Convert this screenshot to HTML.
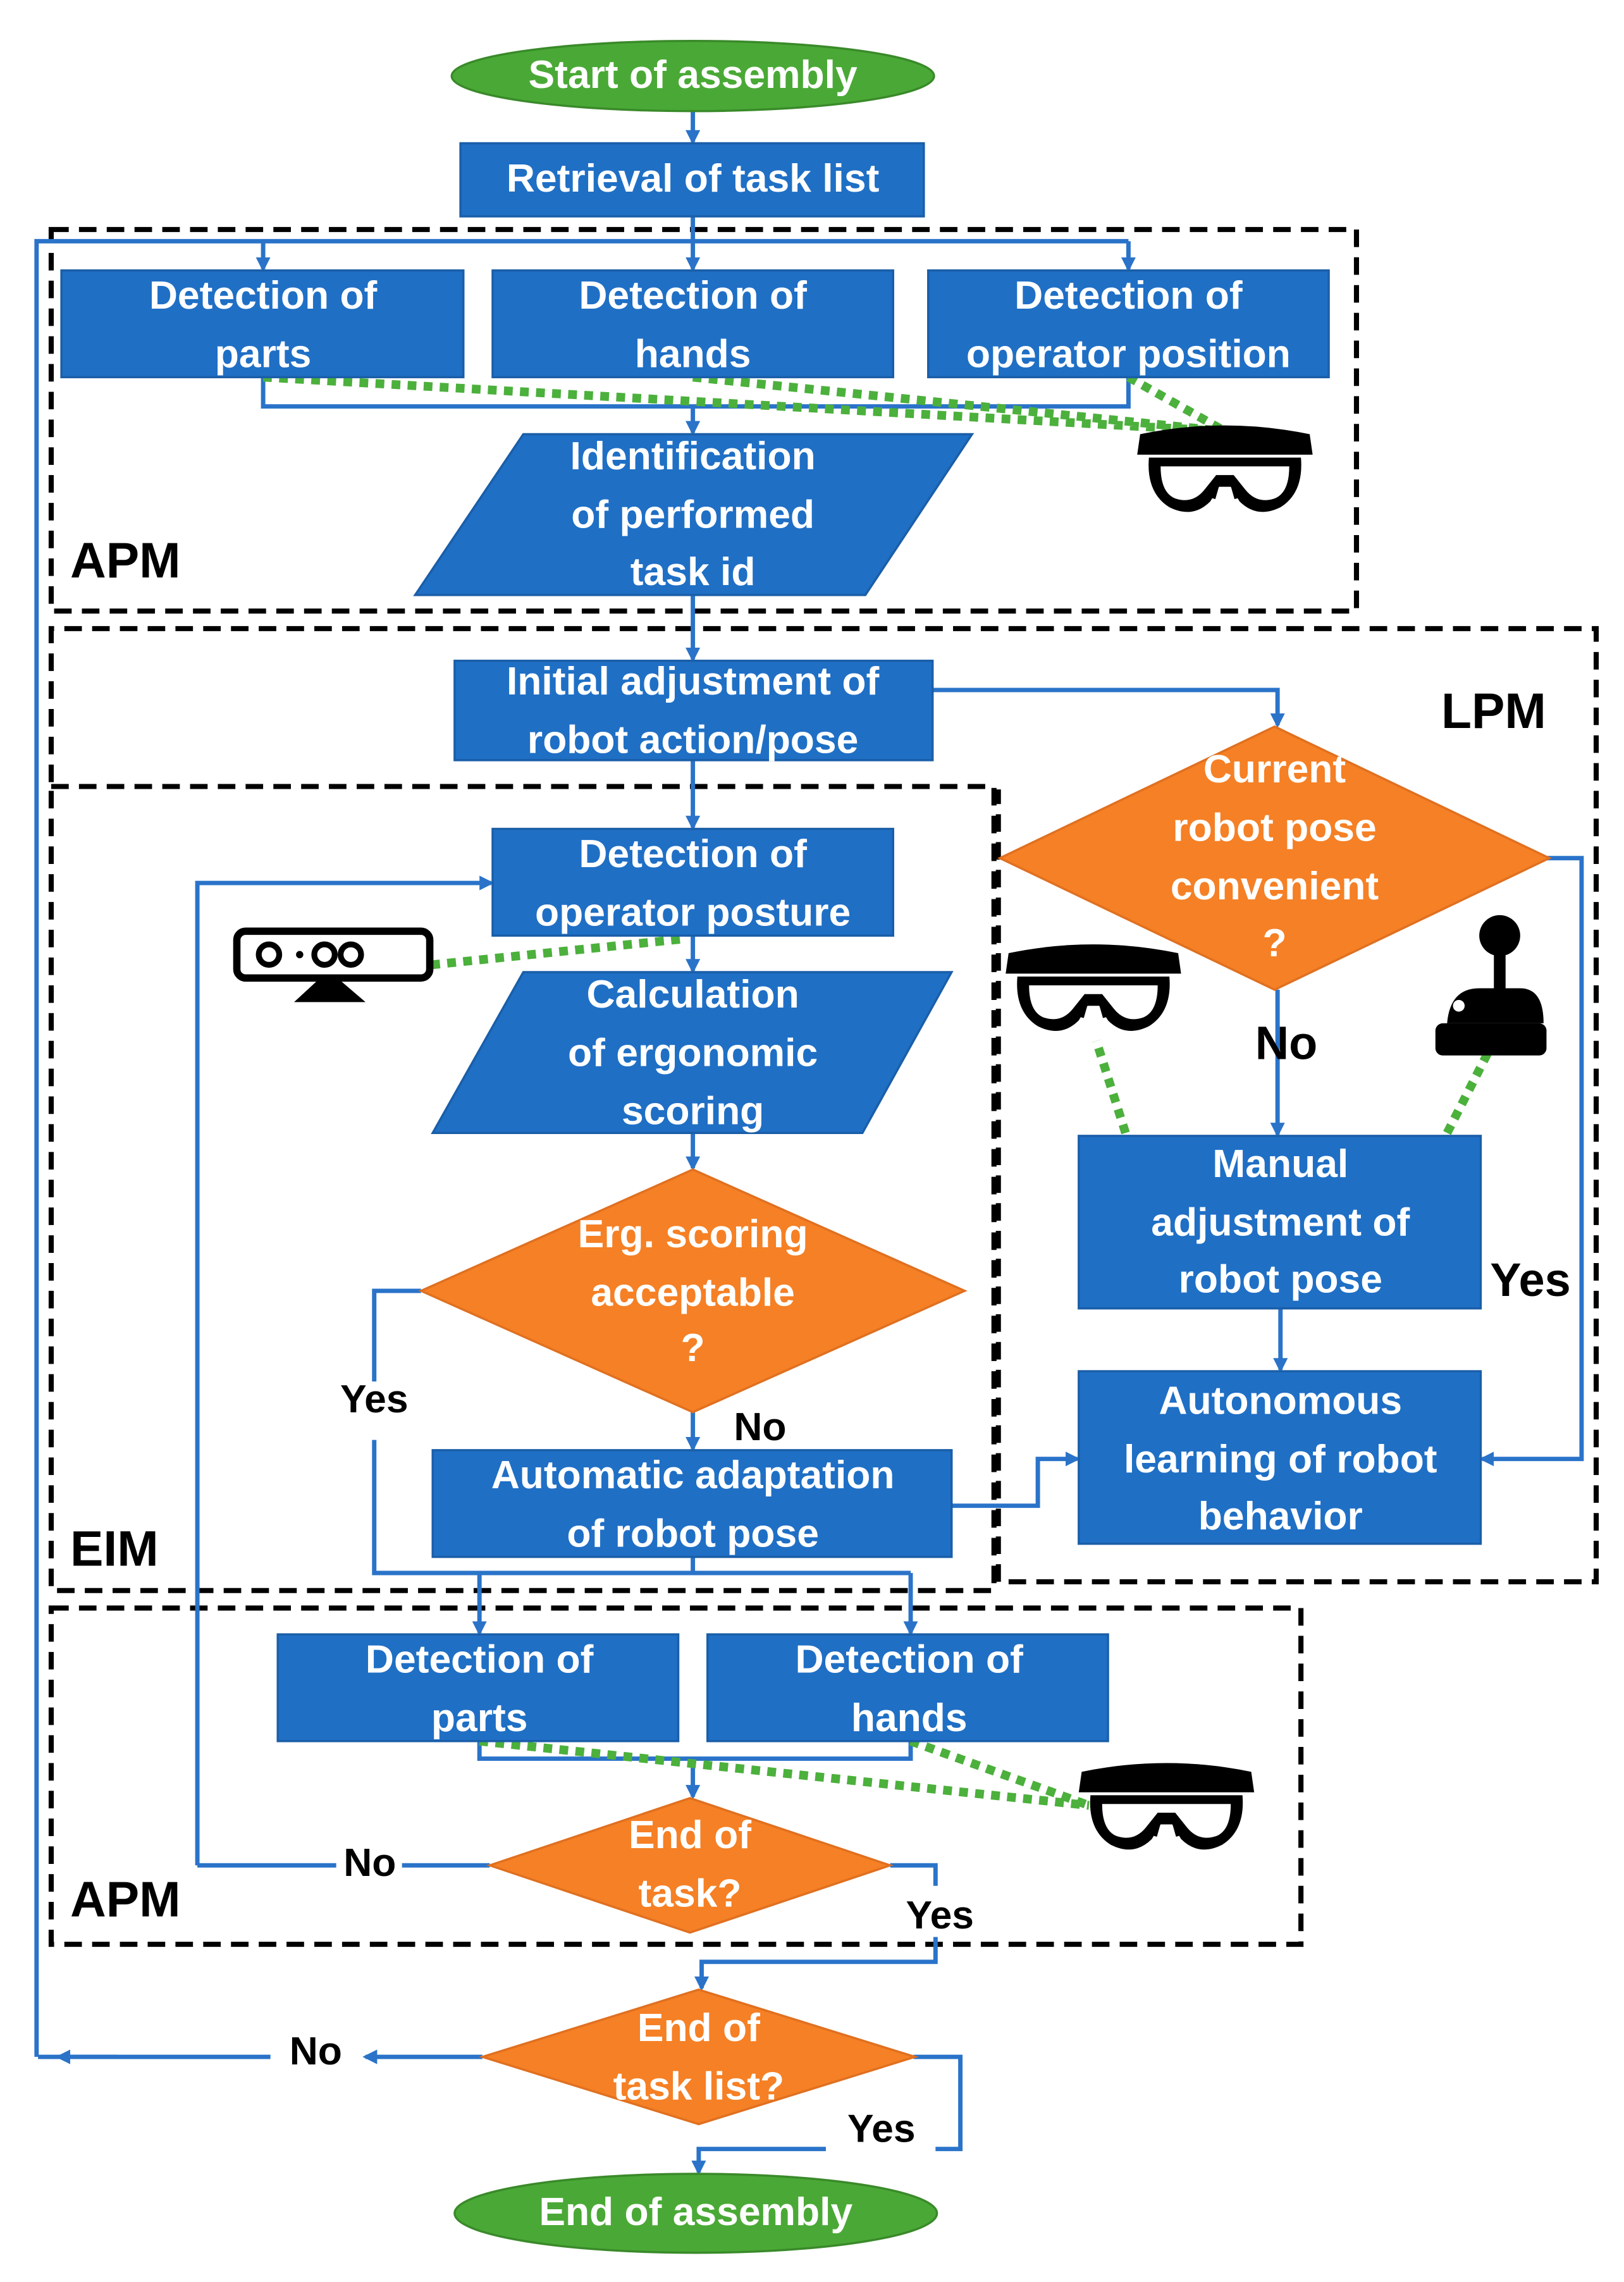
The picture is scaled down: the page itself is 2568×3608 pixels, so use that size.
<!DOCTYPE html>
<html><head><meta charset="utf-8"><style>
html,body{margin:0;padding:0;background:#fff}
svg{display:block}
text{font-family:"Liberation Sans",sans-serif;font-weight:bold}
.bt{fill:#fff;font-size:27px;text-anchor:middle;dominant-baseline:middle}
.lb{fill:#000;font-size:27px;text-anchor:middle;dominant-baseline:middle}
.big{fill:#000;font-size:34px;dominant-baseline:middle}
.box{fill:#1f6fc5;stroke:#1a5ea8;stroke-width:1.5}
.dia{fill:#f58025;stroke:#e07020;stroke-width:1.5}
.ln{stroke:#2a73c9;stroke-width:3;fill:none}
.ds{stroke:#000;stroke-width:3.5;fill:none;stroke-dasharray:12 7}
.gd{stroke:#4cb03c;stroke-width:6;fill:none;stroke-dasharray:6 5}
</style></head><body>
<svg width="2568" height="3608" viewBox="0 0 1111 1561" xmlns="http://www.w3.org/2000/svg">
<defs>
<marker id="a" markerWidth="10" markerHeight="10" refX="8" refY="5" orient="auto" markerUnits="userSpaceOnUse"><path d="M0,0 L10,5 L0,10 z" fill="#2a73c9"/></marker>
<g id="holo">
<path d="M-58,-28 Q0,-40 58,-28 L60,-14 L-60,-14 z" fill="#000"/>
<path d="M-52,-12 L52,-12 Q54,12 38,22 Q22,30 10,18 L4,8 L-4,8 L-10,18 Q-22,30 -38,22 Q-54,12 -52,-12 z" fill="#000"/>
<path d="M-44,-6 L44,-6 Q44,12 34,16 Q22,20 14,10 L6,0 L-6,0 L-14,10 Q-22,20 -34,16 Q-44,12 -44,-6 z" fill="#fff"/>
<path d="M-4,2 L-8,16 M4,2 L8,16" stroke="#000" stroke-width="3"/>
</g>
</defs>

<!-- dashed regions -->
<rect class="ds" x="35" y="157" width="893" height="261"/>
<path class="ds" d="M35,535 L35,430 L1092,430 L1092,1082 L683,1082 L683,540"/>
<rect class="ds" x="35" y="538" width="645" height="550"/>
<rect class="ds" x="35" y="1100" width="855" height="230"/>

<!-- connectors -->
<path class="ln" d="M474,76 L474,97" marker-end="url(#a)"/>
<path class="ln" d="M474,148 L474,165"/>
<path class="ln" d="M25,1407 L25,165 L772,165"/>
<path class="ln" d="M180,165 L180,184" marker-end="url(#a)"/>
<path class="ln" d="M474,165 L474,184" marker-end="url(#a)"/>
<path class="ln" d="M772,165 L772,184" marker-end="url(#a)"/>
<path class="ln" d="M180,258 L180,278 L772,278 L772,258"/>
<path class="ln" d="M474,278 L474,296" marker-end="url(#a)"/>
<path class="ln" d="M474,407 L474,451" marker-end="url(#a)"/>
<path class="ln" d="M638,472 L874,472 L874,496" marker-end="url(#a)"/>
<path class="ln" d="M874,677 L874,776" marker-end="url(#a)"/>
<path class="ln" d="M1058,587 L1082,587 L1082,998 L1014,998" marker-end="url(#a)"/>
<path class="ln" d="M876,895 L876,937" marker-end="url(#a)"/>
<path class="ln" d="M474,520 L474,566" marker-end="url(#a)"/>
<path class="ln" d="M135,1276 L135,604 L336,604" marker-end="url(#a)"/>
<path class="ln" d="M474,640 L474,664" marker-end="url(#a)"/>
<path class="ln" d="M474,775 L474,799" marker-end="url(#a)"/>
<path class="ln" d="M288,883 L256,883 L256,945"/>
<path class="ln" d="M256,985 L256,1076 L623,1076"/>
<path class="ln" d="M474,966 L474,991" marker-end="url(#a)"/>
<path class="ln" d="M651,1030 L710,1030 L710,998 L737,998" marker-end="url(#a)"/>
<path class="ln" d="M474,1065 L474,1076"/>
<path class="ln" d="M328,1076 L328,1117" marker-end="url(#a)"/>
<path class="ln" d="M623,1076 L623,1117" marker-end="url(#a)"/>
<path class="ln" d="M328,1191 L328,1203 L623,1203 L623,1191"/>
<path class="ln" d="M474,1203 L474,1229" marker-end="url(#a)"/>
<path class="ln" d="M335,1276 L275,1276"/>
<path class="ln" d="M230,1276 L135,1276"/>
<path class="ln" d="M609,1276 L640,1276 L640,1290"/>
<path class="ln" d="M640,1325 L640,1342 L480,1342 L480,1360" marker-end="url(#a)"/>
<path class="ln" d="M330,1407 L250,1407" marker-end="url(#a)"/>
<path class="ln" d="M185,1407 L26,1407"/>
<path class="ln" d="M80,1407 L40,1407" marker-end="url(#a)"/>
<path class="ln" d="M625,1407 L657,1407 L657,1470 L640,1470"/>
<path class="ln" d="M565,1470 L478,1470 L478,1486" marker-end="url(#a)"/>

<!-- green dotted -->
<path class="gd" d="M180,258 L838,295 M474,258 L838,295 M772,258 L838,295"/>
<path class="gd" d="M295,660 L470,642"/>
<path class="gd" d="M770,775 L750,712 M990,775 L1018,720"/>
<path class="gd" d="M328,1191 L745,1235 M623,1191 L745,1235"/>

<!-- ellipses -->
<ellipse cx="474" cy="52" rx="165" ry="24" fill="#4aa936" stroke="#3a8a2a" stroke-width="1.5"/>
<text class="bt" x="474" y="53">Start of assembly</text>
<ellipse cx="476" cy="1514" rx="165" ry="27" fill="#4aa936" stroke="#3a8a2a" stroke-width="1.5"/>
<text class="bt" x="476" y="1515">End of assembly</text>

<!-- boxes -->
<rect class="box" x="315" y="98" width="317" height="50"/>
<text class="bt" x="474" y="124">Retrieval of task list</text>
<rect class="box" x="42" y="185" width="275" height="73"/>
<text class="bt" x="180" y="204">Detection of</text><text class="bt" x="180" y="244">parts</text>
<rect class="box" x="337" y="185" width="274" height="73"/>
<text class="bt" x="474" y="204">Detection of</text><text class="bt" x="474" y="244">hands</text>
<rect class="box" x="635" y="185" width="274" height="73"/>
<text class="bt" x="772" y="204">Detection of</text><text class="bt" x="772" y="244">operator position</text>
<polygon class="box" points="358,297 665,297 592,407 284,407"/>
<text class="bt" x="474" y="314">Identification</text><text class="bt" x="474" y="354">of performed</text><text class="bt" x="474" y="393">task id</text>
<rect class="box" x="311" y="452" width="327" height="68"/>
<text class="bt" x="474" y="468">Initial adjustment of</text><text class="bt" x="474" y="508">robot action/pose</text>
<polygon class="dia" points="872,497 1060,587 872,677 684,587"/>
<text class="bt" x="872" y="528">Current</text><text class="bt" x="872" y="568">robot pose</text><text class="bt" x="872" y="608">convenient</text><text class="bt" x="872" y="647">?</text>
<rect class="box" x="738" y="777" width="275" height="118"/>
<text class="bt" x="876" y="798">Manual</text><text class="bt" x="876" y="838">adjustment of</text><text class="bt" x="876" y="877">robot pose</text>
<rect class="box" x="738" y="938" width="275" height="118"/>
<text class="bt" x="876" y="960">Autonomous</text><text class="bt" x="876" y="1000">learning of robot</text><text class="bt" x="876" y="1039">behavior</text>
<rect class="box" x="337" y="567" width="274" height="73"/>
<text class="bt" x="474" y="586">Detection of</text><text class="bt" x="474" y="626">operator posture</text>
<polygon class="box" points="358,665 651,665 590,775 296,775"/>
<text class="bt" x="474" y="682">Calculation</text><text class="bt" x="474" y="722">of ergonomic</text><text class="bt" x="474" y="762">scoring</text>
<polygon class="dia" points="474,800 660,883 474,966 288,883"/>
<text class="bt" x="474" y="846">Erg. scoring</text><text class="bt" x="474" y="886">acceptable</text><text class="bt" x="474" y="924">?</text>
<rect class="box" x="296" y="992" width="355" height="73"/>
<text class="bt" x="474" y="1011">Automatic adaptation</text><text class="bt" x="474" y="1051">of robot pose</text>
<rect class="box" x="190" y="1118" width="274" height="73"/>
<text class="bt" x="328" y="1137">Detection of</text><text class="bt" x="328" y="1177">parts</text>
<rect class="box" x="484" y="1118" width="274" height="73"/>
<text class="bt" x="622" y="1137">Detection of</text><text class="bt" x="622" y="1177">hands</text>
<polygon class="dia" points="472,1230 609,1276 472,1322 335,1276"/>
<text class="bt" x="472" y="1257">End of</text><text class="bt" x="472" y="1297">task?</text>
<polygon class="dia" points="478,1361 626,1407 478,1453 330,1407"/>
<text class="bt" x="478" y="1389">End of</text><text class="bt" x="478" y="1429">task list?</text>

<!-- labels -->
<text class="big" x="48" y="386">APM</text>
<text class="big" x="986" y="489">LPM</text>
<text class="big" x="48" y="1062">EIM</text>
<text class="big" x="48" y="1302">APM</text>
<text class="lb" x="880" y="716" style="font-size:32px">No</text>
<text class="lb" x="1047" y="878" style="font-size:32px">Yes</text>
<text class="lb" x="256" y="959">Yes</text>
<text class="lb" x="520" y="978">No</text>
<text class="lb" x="253" y="1276">No</text>
<text class="lb" x="643" y="1312">Yes</text>
<text class="lb" x="216" y="1405">No</text>
<text class="lb" x="603" y="1458">Yes</text>

<!-- icons -->
<use href="#holo" x="838" y="325"/>
<use href="#holo" x="748" y="680"/>
<use href="#holo" x="798" y="1240"/>
<g>
<rect x="162" y="637" width="132" height="32" rx="6" fill="#fff" stroke="#000" stroke-width="5"/>
<circle cx="184" cy="653" r="7" fill="none" stroke="#000" stroke-width="4"/>
<circle cx="205" cy="653" r="2.5" fill="#000"/>
<circle cx="222" cy="653" r="7" fill="none" stroke="#000" stroke-width="4"/>
<circle cx="240" cy="653" r="7" fill="none" stroke="#000" stroke-width="4"/>
<path d="M218,669 L218,676 M205,684 L246,684 L232,672 L218,672 z" fill="#000" stroke="#000" stroke-width="3"/>
</g>
<g>
<circle cx="1026" cy="640" r="14" fill="#000"/>
<rect x="1022" y="650" width="8" height="28" fill="#000"/>
<path d="M990,700 Q992,676 1012,676 L1040,676 Q1056,676 1056,700 z" fill="#000"/>
<rect x="982" y="700" width="76" height="22" rx="5" fill="#000"/>
<circle cx="998" cy="688" r="4" fill="#fff"/>
</g>
</svg>
</body></html>
